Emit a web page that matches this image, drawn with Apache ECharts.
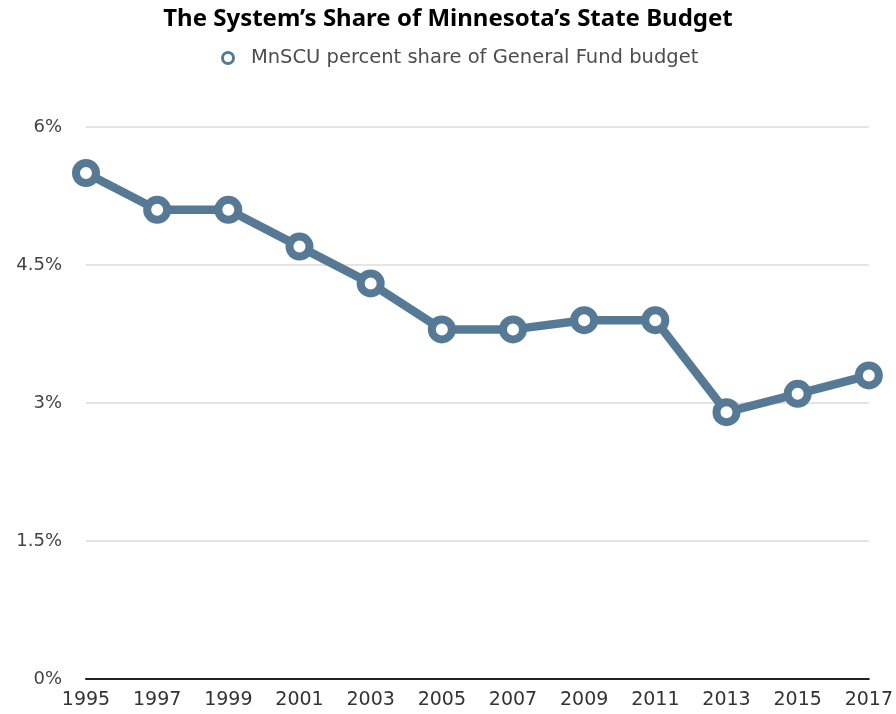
<!DOCTYPE html>
<html>
<head>
<meta charset="utf-8">
<script src="https://cdn.jsdelivr.net/npm/echarts@6/dist/echarts.min.js"></script>
<style>
html,body{margin:0;padding:0;background:#fff;}
#chart{width:896px;height:714px;}
</style>
</head>
<body>
<div id="chart"></div>
<script>
var years = ['1995','1997','1999','2001','2003','2005','2007','2009','2011','2013','2015','2017'];
var shareValues = [5.5, 5.1, 5.1, 4.7, 4.3, 3.8, 3.8, 3.9, 3.9, 2.9, 3.1, 3.3];
var yTicks = [0, 1.5, 3, 4.5, 6];
var seriesName = 'MnSCU percent share of General Fund budget';
var lineColor = '#567996';

var chart = echarts.init(document.getElementById('chart'));
var option = {
    animation: false,
    title: {
        text: 'The System\u2019s Share of Minnesota\u2019s State Budget',
        left: 'center',
        top: 2,
        textStyle: {
            fontFamily: 'Noto Sans',
            fontWeight: 'bold',
            fontSize: 24,
            color: '#000'
        }
    },
    legend: {
        data: [seriesName],
        top: 43,
        left: 216,
        icon: 'circle',
        itemWidth: 11,
        itemHeight: 11,
        itemStyle: {
            color: '#fff',
            borderColor: lineColor,
            borderWidth: 3
        },
        formatter: function (name) {
            return '  ' + name;
        },
        textStyle: {
            fontFamily: 'DejaVu Sans',
            fontSize: 19.5,
            color: '#4d4d4d'
        }
    },
    grid: {
        left: 86,
        right: 27,
        top: 127,
        bottom: 35,
        containLabel: false
    },
    xAxis: {
        type: 'category',
        boundaryGap: false,
        data: years,
        axisLine: { lineStyle: { color: '#222', width: 2 } },
        axisTick: { show: false },
        axisLabel: {
            fontFamily: 'DejaVu Sans',
            fontSize: 19,
            color: '#333',
            margin: 12,
            interval: 0
        }
    },
    yAxis: {
        type: 'value',
        min: 0,
        max: 6,
        interval: 1.5,
        axisLine: { show: false },
        axisTick: { show: false },
        splitLine: { lineStyle: { color: '#e4e4e4', width: 2 } },
        axisLabel: {
            fontFamily: 'DejaVu Sans',
            fontSize: 18,
            color: '#444',
            margin: 24,
            formatter: function (v) {
                return yTicks.indexOf(v) >= 0 ? v + '%' : '';
            }
        }
    },
    series: [
        {
            name: seriesName,
            type: 'line',
            data: shareValues,
            symbol: 'circle',
            symbolSize: 20,
            lineStyle: { color: lineColor, width: 8.5 },
            itemStyle: {
                color: '#fff',
                borderColor: lineColor,
                borderWidth: 8
            }
        }
    ]
};
chart.setOption(option);
</script>
</body>
</html>
